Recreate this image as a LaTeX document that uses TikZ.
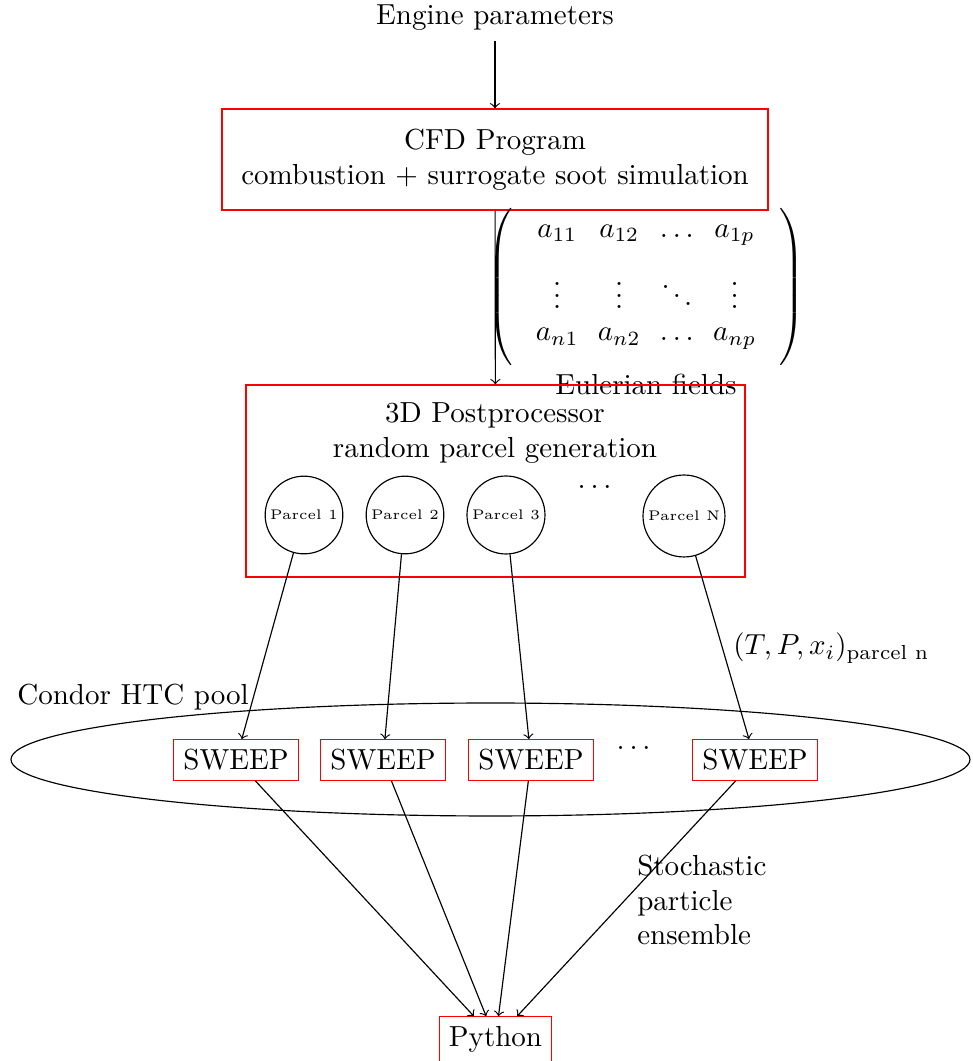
\documentclass[tikz,border=0pt]{standalone}
\usepackage{amsmath}
\usetikzlibrary{shapes.geometric,matrix}

\begin{document}
\begin{tikzpicture}
        [
            >=to,
            redbox/.style={draw=red},
            parcel/.style={circle, draw, inner sep=1.4pt, font=\fontsize{4.8}{5.5}\selectfont},
            note/.style={align=left},
        ]
        \useasboundingbox (0,0) rectangle (11.780,-12.858);

        % input and CFD
        \node (engine) at (5.999,-0.218) {Engine parameters};
        \node[redbox, align=center, minimum width=6.617cm, minimum height=1.224cm] (cfd)
            at (5.999,-1.933) {CFD Program\\combustion + surrogate soot simulation};

        % Eulerian fields
        \matrix[matrix of math nodes, left delimiter=(, right delimiter=)] (fields)
            at (7.829,-3.478)
        {
            a_{11} & a_{12} & \dots & a_{1p} \\
            \vdots & \vdots & \ddots & \vdots \\
            a_{n1} & a_{n2} & \dots & a_{np} \\
        };
        \node (fieldsname) at (7.829,-4.654) {Eulerian fields};

        % postprocessor
        \node[redbox, minimum width=6.047cm, minimum height=2.327cm] (post) at (6.005,-5.829) {};
        \node[align=center] (posttitle) at (5.999,-5.248) {3D Postprocessor\\random parcel generation};
        \node[parcel] (p1) at (3.684,-6.241) {Parcel 1};
        \node[parcel] (p2) at (4.908,-6.241) {Parcel 2};
        \node[parcel] (p3) at (6.132,-6.241) {Parcel 3};
        \node (pdots) at (7.235,-5.902) {$\dots$};
        \node[parcel] (pN) at (8.289,-6.253) {Parcel N};

        % HTC pool
        \node[ellipse, draw, inner sep=0pt, minimum width=11.622cm, minimum height=1.369cm] (pool)
            at (5.944,-9.204) {};
        \node (poolname) at (1.612,-8.447) {Condor HTC pool};
        \node[redbox] (s1) at (2.860,-9.210) {SWEEP};
        \node[redbox] (s2) at (4.642,-9.210) {SWEEP};
        \node[redbox] (s3) at (6.435,-9.210) {SWEEP};
        \node (sdots) at (7.708,-9.065) {$\dots$};
        \node[redbox] (s4) at (9.150,-9.210) {SWEEP};

        \node[redbox] (python) at (6.005,-12.598) {Python};

        \node[anchor=west] (state) at (8.762,-7.853) {$(T,P,x_i)_{\text{parcel n}}$};
        \node[note, anchor=west] (ensemble) at (7.599,-10.907) {Stochastic\\particle\\ensemble};

        \draw[->] (engine) -- (cfd);
        \draw[->] (cfd) -- (post);
        \foreach \p/\s in {p1/s1, p2/s2, p3/s3, pN/s4}
            \draw[->] (\p) -- (\s);
        \foreach \s in {s1, s2, s3, s4}
            \draw[->] (\s) -- (python);
    \end{tikzpicture}
\end{document}
